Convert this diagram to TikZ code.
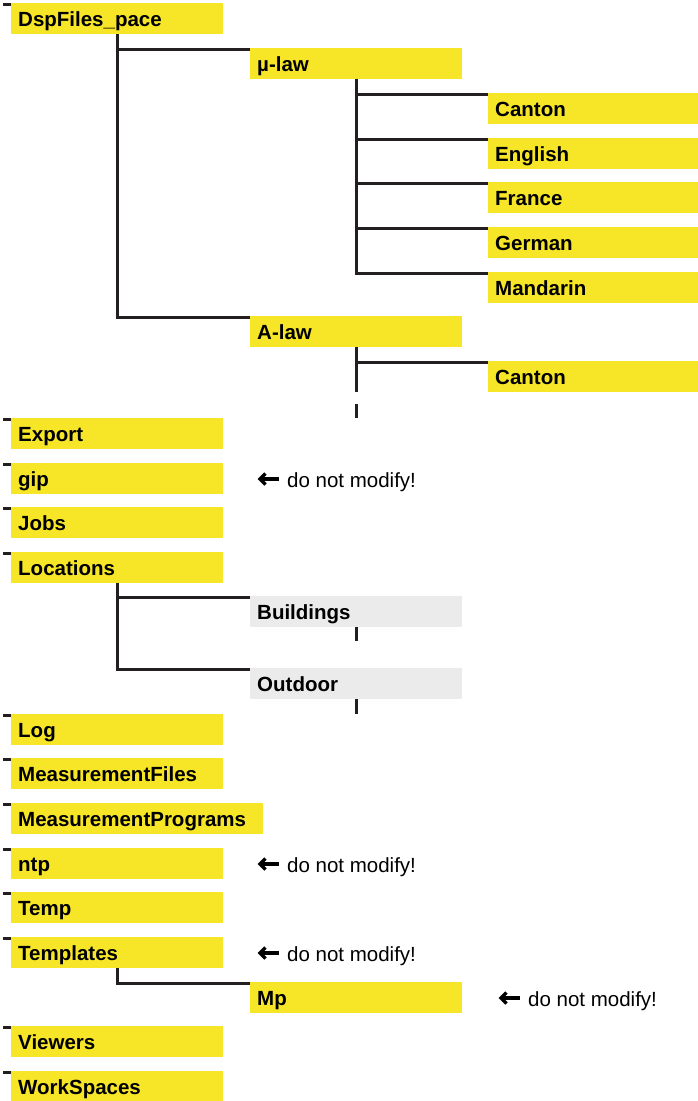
\documentclass[tikz,border=0pt]{standalone}
\usepackage{fontspec}
\setmainfont{Liberation Sans}
\usetikzlibrary{calc}
\definecolor{fy}{HTML}{F7E628}
\definecolor{fg}{HTML}{EBEBEB}
\definecolor{ln}{HTML}{231F20}
\newcommand\notearr[1]{%
  \draw[draw=black, line width=3.4pt] ([xshift=-8pt,yshift=8pt]#1.base west) -- ([xshift=-26pt,yshift=8pt]#1.base west);
  \draw[draw=black, line width=3.4pt, line join=miter] ([xshift=-21.5pt,yshift=13.5pt]#1.base west) -- ([xshift=-27pt,yshift=8pt]#1.base west) -- ([xshift=-21.5pt,yshift=2.5pt]#1.base west);}
\begin{document}
\begin{tikzpicture}[x=1pt,y=-1pt,
 box/.style={fill=fy, anchor=north west, inner xsep=7pt, inner ysep=0pt, text height=23.5pt, text depth=7pt, align=left, font=\fontsize{20.5}{24}\selectfont\bfseries, text width=198pt},
 wbox/.style={box, text width=196pt},
 lbox/.style={box, text width=238pt},
 gbox/.style={box, fill=fg},
 conn/.style={draw=ln, line width=2.8pt},
 tick/.style={draw=ln, line width=2.8pt},
 note/.style={anchor=base west, inner sep=0pt, font=\fontsize{20.5}{24}\selectfont},
]
\useasboundingbox (0,0) rectangle (698,1101);

% level 1
\node[box] (dsp) at (11,3) {DspFiles\_pace};
\node[box] (export) at (11,418) {Export};
\node[box] (gip) at (11,463) {gip};
\node[box] (jobs) at (11,507) {Jobs};
\node[box] (loc) at (11,552) {Locations};
\node[box] (log) at (11,714) {Log};
\node[box] (mfiles) at (11,758) {MeasurementFiles};
\node[lbox] (mprog) at (11,803) {MeasurementPrograms};
\node[box] (ntp) at (11,848) {ntp};
\node[box] (temp) at (11,892) {Temp};
\node[box] (tmpl) at (11,937) {Templates};
\node[box] (view) at (11,1026) {Viewers};
\node[box] (ws) at (11,1071) {WorkSpaces};

% level 2
\node[box] (mu) at (250,48) {µ-law};
\node[box] (alaw) at (250,316) {A-law};
\node[gbox] (build) at (250,596) {Buildings};
\node[gbox] (out) at (250,668) {Outdoor};
\node[box] (mp) at (250,982) {Mp};

% level 3
\node[wbox] (can1) at (488,93) {Canton};
\node[wbox] (eng) at (488,138) {English};
\node[wbox] (fra) at (488,182) {France};
\node[wbox] (ger) at (488,227) {German};
\node[wbox] (man) at (488,272) {Mandarin};
\node[wbox] (can2) at (488,361) {Canton};

% ticks
\foreach \n in {dsp,export,gip,jobs,loc,log,mfiles,mprog,ntp,temp,tmpl,view,ws}
  \draw[tick] ([yshift=-1.4pt]\n.north west) -- ++(-8,0);

% connectors
\foreach \c in {mu,alaw}
  \draw[conn] (dsp.south) |- ([yshift=-1.4pt]\c.north west);
\foreach \c in {can1,eng,fra,ger,man}
  \draw[conn] (mu.south) |- ([yshift=-1.4pt]\c.north west);
\draw[conn] (alaw.south) |- ([yshift=-1.4pt]can2.north west);
\draw[conn] (alaw.south) -- (alaw.south |- can2.south);
\draw[conn] ([yshift=-12pt]alaw.south |- can2.south) -- ++(0,14);
\foreach \c in {build,out}
  \draw[conn] (loc.south) |- ([yshift=-1.4pt]\c.north west);
\draw[conn] (build.south) -- ++(0,14);
\draw[conn] (out.south) -- ++(0,15);
\draw[conn] (tmpl.south) |- ([yshift=-1.4pt]mp.north west);

% notes
\node[note] (n1) at (287,487) {do not modify!};
\node[note] (n2) at (287,872) {do not modify!};
\node[note] (n3) at (287,961) {do not modify!};
\node[note] (n4) at (528,1006) {do not modify!};
\notearr{n1}
\notearr{n2}
\notearr{n3}
\notearr{n4}
\end{tikzpicture}
\end{document}
